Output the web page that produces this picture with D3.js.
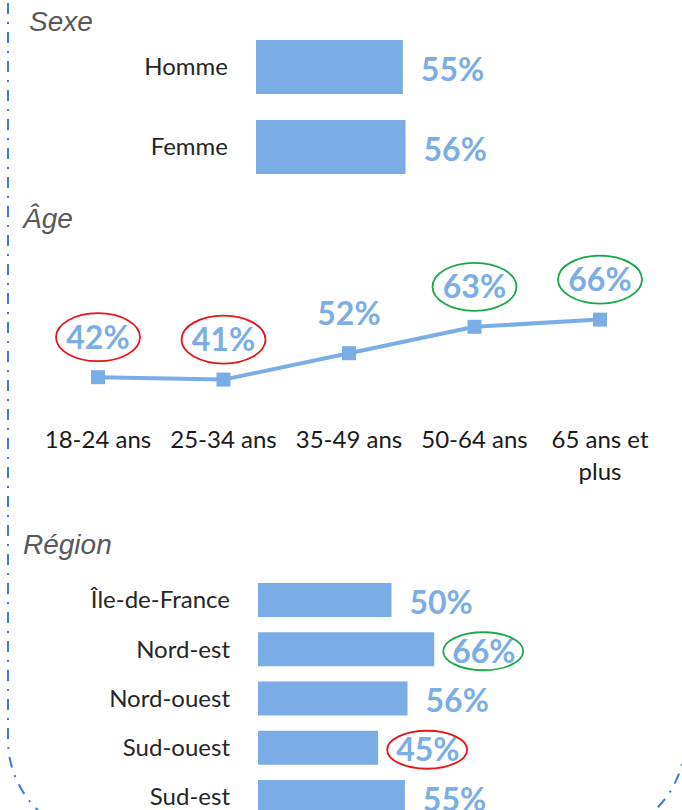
<!DOCTYPE html>
<html>
<head>
<meta charset="utf-8">
<script src="https://cdn.jsdelivr.net/npm/d3@7"></script>
<style>
  body { margin: 0; background: #fff; }
  svg { display: block; }
</style>
</head>
<body>
<div id="chart"></div>
<script>
// data
var sexes = ["Homme", "Femme"];
var sexValues = [55, 56];

var ages = ["18-24 ans", "25-34 ans", "35-49 ans", "50-64 ans", "65 ans et plus"];
var ageLines = [["18-24 ans"], ["25-34 ans"], ["35-49 ans"], ["50-64 ans"], ["65 ans et", "plus"]];
var ageValues = [42, 41, 52, 63, 66];
// circled values: "low" in red, "high" in green
var ageMarks = ["low", "low", "", "high", "high"];

var regions = ["Île-de-France", "Nord-est", "Nord-ouest", "Sud-ouest", "Sud-est"];
var regionValues = [50, 66, 56, 45, 55];
var regionMarks = ["", "high", "", "low", ""];

var W = 682, H = 810;
var blue = "#7aace6", labelBlue = "#7dade6";
var dark = "#262626", grey = "#595959";
var markColor = { low: "#e8141b", high: "#1aa64a" };
var font = "Lato, 'Open Sans', sans-serif";

var svg = d3.select("#chart").append("svg")
    .attr("width", W)
    .attr("height", H);

// dash-dot rounded frame, its top and bottom run past the picture
var r = 97;
var frame = d3.path();
frame.moveTo(8, -200);
frame.lineTo(8, 837 - r);
frame.arcTo(8, 837, 8 + r, 837, r);
frame.lineTo(685 - r, 837);
frame.arcTo(685, 837, 685, 837 - r, r);
frame.lineTo(685, -200);
svg.append("path")
    .attr("d", frame.toString())
    .attr("fill", "none")
    .attr("stroke", "#3a7bd5")
    .attr("stroke-width", 2)
    .attr("stroke-dasharray", "11,8,2,8");

// section titles
function title(txt, x, y) {
  svg.append("text")
      .attr("x", x).attr("y", y)
      .attr("font-family", "'Liberation Sans', Arial, sans-serif")
      .attr("font-style", "italic")
      .attr("font-size", 28)
      .attr("fill", grey)
      .text(txt);
}
title("Sexe", 29, 31);
title("Âge", 23, 228);
title("Région", 23, 554);

// shared bar scale (percent -> px)
var xBar = d3.scaleLinear().domain([0, 100]).range([0, 267]);

function barGroup(cats, vals, marks, x0, yRange, barH) {
  var y = d3.scalePoint().domain(cats).range(yRange);
  var g = svg.append("g");
  var rows = g.selectAll("g.row")
      .data(cats)
      .enter().append("g")
      .attr("class", "row");

  rows.append("rect")
      .attr("x", x0)
      .attr("y", function(d) { return y(d) - barH / 2; })
      .attr("width", function(d, i) { return xBar(vals[i]); })
      .attr("height", barH)
      .attr("fill", blue);

  rows.append("text")
      .attr("x", x0 - 28)
      .attr("y", function(d) { return y(d); })
      .attr("dy", "0.35em")
      .attr("text-anchor", "end")
      .attr("font-family", font)
      .attr("font-size", 24)
      .attr("fill", dark)
      .text(function(d) { return d; });

  rows.append("text")
      .attr("x", function(d, i) { return x0 + xBar(vals[i]) + 18; })
      .attr("y", function(d) { return y(d) + 2; })
      .attr("dy", "0.36em")
      .attr("font-family", font)
      .attr("font-weight", "bold")
      .attr("font-size", 32)
      .attr("fill", labelBlue)
      .text(function(d, i) { return vals[i] + "%"; });

  rows.filter(function(d, i) { return marks && marks[i]; })
      .append("ellipse")
      .attr("cx", function(d) { var i = cats.indexOf(d); return x0 + xBar(vals[i]) + 49; })
      .attr("cy", function(d) { return y(d) + 2; })
      .attr("rx", 40)
      .attr("ry", 19)
      .attr("fill", "none")
      .attr("stroke", function(d) { return markColor[marks[cats.indexOf(d)]]; })
      .attr("stroke-width", 1.8);
}

barGroup(sexes, sexValues, null, 256, [67, 147], 54);
barGroup(regions, regionValues, regionMarks, 258, [600, 797], 34);

// age line chart
var xAge = d3.scalePoint().domain(ages).range([98, 600]);
var yAge = d3.scaleLinear().domain([0, 100]).range([478, 238]);

var line = d3.line()
    .x(function(d, i) { return xAge(ages[i]); })
    .y(function(d) { return yAge(d); });

svg.append("path")
    .datum(ageValues)
    .attr("d", line)
    .attr("fill", "none")
    .attr("stroke", blue)
    .attr("stroke-width", 4);

svg.selectAll("rect.marker")
    .data(ageValues)
    .enter().append("rect")
    .attr("class", "marker")
    .attr("x", function(d, i) { return xAge(ages[i]) - 7; })
    .attr("y", function(d) { return yAge(d) - 7; })
    .attr("width", 14)
    .attr("height", 14)
    .attr("fill", blue);

svg.selectAll("text.agevalue")
    .data(ageValues)
    .enter().append("text")
    .attr("class", "agevalue")
    .attr("x", function(d, i) { return xAge(ages[i]); })
    .attr("y", function(d) { return yAge(d) - 40; })
    .attr("dy", "0.36em")
    .attr("text-anchor", "middle")
    .attr("font-family", font)
    .attr("font-weight", "bold")
    .attr("font-size", 32)
    .attr("fill", labelBlue)
    .text(function(d) { return d + "%"; });

svg.selectAll("ellipse.agemark")
    .data(ageValues.filter(function(d, i) { return ageMarks[i]; }))
    .enter().append("ellipse")
    .attr("class", "agemark")
    .attr("cx", function(d) { return xAge(ages[ageValues.indexOf(d)]); })
    .attr("cy", function(d) { return yAge(d) - 40; })
    .attr("rx", 42)
    .attr("ry", 24)
    .attr("fill", "none")
    .attr("stroke", function(d) { return markColor[ageMarks[ageValues.indexOf(d)]]; })
    .attr("stroke-width", 1.8);

// category labels under the line
var ageLabels = svg.selectAll("text.agelabel")
    .data(ages)
    .enter().append("text")
    .attr("class", "agelabel")
    .attr("text-anchor", "middle")
    .attr("font-family", font)
    .attr("font-size", 24)
    .attr("fill", "#1a1a1a");

ageLabels.selectAll("tspan")
    .data(function(d, i) { return ageLines[i]; })
    .enter().append("tspan")
    .attr("x", function() { return xAge(d3.select(this.parentNode).datum()); })
    .attr("y", function(d, j) { return 448 + j * 32; })
    .text(function(d) { return d; });
</script>
</body>
</html>
